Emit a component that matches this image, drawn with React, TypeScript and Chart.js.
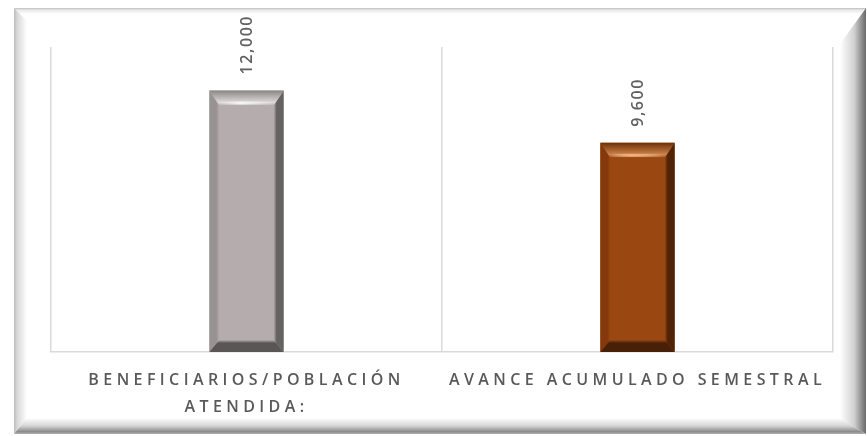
import React, { useEffect, useRef } from "react";
import { Chart, registerables } from "chart.js";

Chart.register(...registerables);

const categories: string[][] = [["BENEFICIARIOS/POBLACIÓN", "ATENDIDA:"], ["AVANCE ACUMULADO SEMESTRAL"]];
const values: number[] = [12000, 9600];
const valueLabels: string[] = ["12,000", "9,600"];
const barFaces: string[] = ["#b5adad", "#9a4712"];

type Bevel = { top: string; topIn: string; left: string; right: string; bottom: string; hi: string };
const bevels: Bevel[] = [
  { top: "#8a8686", topIn: "#dedada", left: "#989292", right: "#666262", bottom: "#5a5656", hi: "rgba(255,255,255,0.8)" },
  { top: "#6e300a", topIn: "#d08448", left: "#84380c", right: "#512306", bottom: "#482008", hi: "rgba(255,190,130,0.8)" },
];

const framePlugin = {
  id: "frame",
  beforeDraw(chart: any) {
    const ctx: CanvasRenderingContext2D = chart.ctx;
    const W = chart.width, H = chart.height;
    ctx.save();
    (ctx as any).letterSpacing = "0px";
    ctx.fillStyle = "#ffffff";
    ctx.fillRect(0, 0, W, H);
    const L = 14, T = 8, R = 866, B = 434;
    // top
    let g = ctx.createLinearGradient(0, T, 0, T + 6);
    g.addColorStop(0, "#bdbdbd");
    g.addColorStop(0.3, "#e6e6e6");
    g.addColorStop(1, "#ffffff");
    ctx.fillStyle = g;
    ctx.beginPath();
    ctx.moveTo(L, T); ctx.lineTo(R, T); ctx.lineTo(R - 6, T + 6); ctx.lineTo(L + 6, T + 6); ctx.closePath();
    ctx.fill();
    // left
    g = ctx.createLinearGradient(L, 0, L + 13, 0);
    g.addColorStop(0, "#bcbcbc");
    g.addColorStop(0.25, "#d8d8d8");
    g.addColorStop(1, "#ffffff");
    ctx.fillStyle = g;
    ctx.beginPath();
    ctx.moveTo(L, T); ctx.lineTo(L + 13, T + 13); ctx.lineTo(L + 13, B - 15); ctx.lineTo(L, B); ctx.closePath();
    ctx.fill();
    // right
    g = ctx.createLinearGradient(R - 26, 0, R, 0);
    g.addColorStop(0, "#ffffff");
    g.addColorStop(0.55, "#d0d0d0");
    g.addColorStop(0.85, "#8a8a8a");
    g.addColorStop(1, "#6a6a6a");
    ctx.fillStyle = g;
    ctx.beginPath();
    ctx.moveTo(R, T); ctx.lineTo(R, B); ctx.lineTo(R - 26, B - 16); ctx.lineTo(R - 26, T + 36); ctx.closePath();
    ctx.fill();
    // bottom
    g = ctx.createLinearGradient(0, B - 16, 0, B);
    g.addColorStop(0, "#ffffff");
    g.addColorStop(0.5, "#d4d4d4");
    g.addColorStop(0.85, "#8c8c8c");
    g.addColorStop(1, "#b0b0b0");
    ctx.fillStyle = g;
    ctx.beginPath();
    ctx.moveTo(L, B); ctx.lineTo(L + 13, B - 16); ctx.lineTo(R - 26, B - 16); ctx.lineTo(R, B); ctx.closePath();
    ctx.fill();
    ctx.restore();
    (ctx as any).letterSpacing = "4.4px";
  },
  beforeDatasetsDraw(chart: any) {
    (chart.ctx as any).letterSpacing = "0px";
  },
  afterDatasetsDraw(chart: any) {
    const ctx: CanvasRenderingContext2D = chart.ctx;
    const meta = chart.getDatasetMeta(0);
    meta.data.forEach((el: any, i: number) => {
      const { x, y, base, width } = el.getProps(["x", "y", "base", "width"], true);
      const l = x - width / 2, r = x + width / 2, t = y, b = base;
      const bt = 15, bs = 10, bb = 12;
      const bv = bevels[i];
      ctx.save();
      // left bevel
      let g = ctx.createLinearGradient(l, 0, l + bs, 0);
      g.addColorStop(0, bv.left);
      g.addColorStop(0.7, bv.left);
      g.addColorStop(1, barFaces[i]);
      ctx.fillStyle = g;
      ctx.beginPath();
      ctx.moveTo(l, t); ctx.lineTo(l + bs, t + bt); ctx.lineTo(l + bs, b - bb); ctx.lineTo(l, b); ctx.closePath();
      ctx.fill();
      // right bevel
      g = ctx.createLinearGradient(r - bs, 0, r, 0);
      g.addColorStop(0, barFaces[i]);
      g.addColorStop(0.3, bv.right);
      g.addColorStop(1, bv.right);
      ctx.fillStyle = g;
      ctx.beginPath();
      ctx.moveTo(r, t); ctx.lineTo(r - bs, t + bt); ctx.lineTo(r - bs, b - bb); ctx.lineTo(r, b); ctx.closePath();
      ctx.fill();
      // top bevel
      g = ctx.createLinearGradient(0, t, 0, t + bt);
      g.addColorStop(0, bv.top);
      g.addColorStop(0.8, bv.topIn);
      g.addColorStop(1, barFaces[i]);
      ctx.fillStyle = g;
      ctx.beginPath();
      ctx.moveTo(l, t); ctx.lineTo(r, t); ctx.lineTo(r - bs, t + bt); ctx.lineTo(l + bs, t + bt); ctx.closePath();
      ctx.fill();
      // highlight
      g = ctx.createLinearGradient(l + bs, 0, r - bs, 0);
      g.addColorStop(0, "rgba(255,255,255,0)");
      g.addColorStop(0.4, bv.hi);
      g.addColorStop(1, "rgba(255,255,255,0)");
      ctx.fillStyle = g;
      ctx.fillRect(l + bs + 1, t + bt - 4, width - 2 * bs - 2, 3);
      // bottom bevel
      g = ctx.createLinearGradient(0, b - bb, 0, b);
      g.addColorStop(0, barFaces[i]);
      g.addColorStop(0.25, bv.bottom);
      g.addColorStop(1, bv.bottom);
      ctx.fillStyle = g;
      ctx.beginPath();
      ctx.moveTo(l, b); ctx.lineTo(l + bs, b - bb); ctx.lineTo(r - bs, b - bb); ctx.lineTo(r, b); ctx.closePath();
      ctx.fill();
      ctx.restore();

      // value label
      ctx.save();
      (ctx as any).letterSpacing = "1.6px";
      ctx.translate(x + 1, t - 16);
      ctx.rotate(-Math.PI / 2);
      ctx.font = "600 16px 'Open Sans'";
      ctx.fillStyle = "#606060";
      ctx.textAlign = "left";
      ctx.textBaseline = "middle";
      ctx.fillText(valueLabels[i], 0, 0);
      ctx.restore();
    });
  },
  afterDraw(chart: any) {
    (chart.ctx as any).letterSpacing = "0px";
  },
};

export default function App() {
  const ref = useRef<HTMLCanvasElement | null>(null);
  useEffect(() => {
    if (!ref.current) return;
    const chart = new Chart(ref.current, {
      type: "bar",
      data: {
        labels: categories as any,
        datasets: [
          {
            data: values,
            backgroundColor: barFaces,
            borderWidth: 0,
            barPercentage: 0.19,
            categoryPercentage: 1,
          },
        ],
      },
      options: {
        animation: false,
        responsive: false,
        maintainAspectRatio: false,
        layout: { padding: { left: 51, right: 34, top: 47, bottom: 0 } },
        plugins: { legend: { display: false }, tooltip: { enabled: false } },
        scales: {
          y: { display: false, min: 0, max: 14000 },
          x: {
            afterFit: (s: any) => {
              s.height = 84;
            },
            grid: { display: true, color: "#d9d9d9", lineWidth: 1.5, drawTicks: false, offset: true },
            border: { display: true, color: "#d9d9d9", width: 1.5 },
            ticks: {
              autoSkip: false,
              maxRotation: 0,
              minRotation: 0,
              padding: 15,
              color: "#595959",
              font: { family: "'Open Sans'", size: 16, weight: 600, lineHeight: 1.7 },
            },
          },
        },
      },
      plugins: [framePlugin],
    });
    return () => chart.destroy();
  }, []);
  return (
    <div style={{ position: "fixed", left: 0, top: 0, width: 867, height: 436, background: "#fff" }}>
      <canvas ref={ref} width={867} height={436} style={{ width: 867, height: 436, display: "block" }} />
    </div>
  );
}
